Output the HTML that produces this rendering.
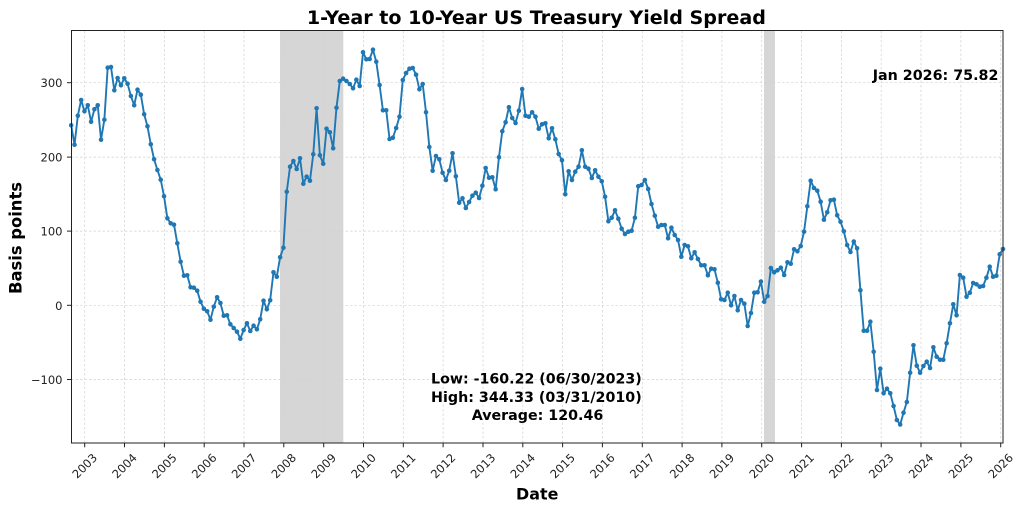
<!DOCTYPE html>
<html>
<head>
<meta charset="utf-8">
<style>
html,body{margin:0;padding:0;background:#fff;}
svg{display:block;}
text{font-family:"DejaVu Sans","Liberation Sans",sans-serif;}
</style>
</head>
<body>
<svg width="1024" height="512" viewBox="0 0 1024 512" xmlns="http://www.w3.org/2000/svg">
<defs>
<marker id="m" markerUnits="userSpaceOnUse" overflow="visible" style="overflow:visible" refX="0" refY="0" markerWidth="1" markerHeight="1">
<ellipse cx="0" cy="0" rx="0.69" ry="2.3" fill="#1f77b4"/>
</marker>
</defs>
<rect x="0" y="0" width="1024" height="512" fill="#fff"/>
<!-- recession shading -->
<rect x="280" y="31" width="63.3" height="412" fill="#d6d6d6"/>
<rect x="764" y="31" width="11" height="412" fill="#d6d6d6"/>
<!-- grid -->
<g stroke="#d2d2d2" stroke-width="0.7" stroke-dasharray="2.5,2" fill="none">
<line x1="71" y1="82.7" x2="1003" y2="82.7"/>
<line x1="71" y1="157.1" x2="1003" y2="157.1"/>
<line x1="71" y1="231.1" x2="1003" y2="231.1"/>
<line x1="71" y1="305.3" x2="1003" y2="305.3"/>
<line x1="71" y1="379.5" x2="1003" y2="379.5"/>
<line x1="84.7" y1="31" x2="84.7" y2="443"/>
<line x1="124.5" y1="31" x2="124.5" y2="443"/>
<line x1="164.4" y1="31" x2="164.4" y2="443"/>
<line x1="204.2" y1="31" x2="204.2" y2="443"/>
<line x1="244.0" y1="31" x2="244.0" y2="443"/>
<line x1="283.8" y1="31" x2="283.8" y2="443"/>
<line x1="323.7" y1="31" x2="323.7" y2="443"/>
<line x1="363.5" y1="31" x2="363.5" y2="443"/>
<line x1="403.3" y1="31" x2="403.3" y2="443"/>
<line x1="443.1" y1="31" x2="443.1" y2="443"/>
<line x1="483.0" y1="31" x2="483.0" y2="443"/>
<line x1="522.8" y1="31" x2="522.8" y2="443"/>
<line x1="562.6" y1="31" x2="562.6" y2="443"/>
<line x1="602.4" y1="31" x2="602.4" y2="443"/>
<line x1="642.3" y1="31" x2="642.3" y2="443"/>
<line x1="682.1" y1="31" x2="682.1" y2="443"/>
<line x1="721.9" y1="31" x2="721.9" y2="443"/>
<line x1="761.7" y1="31" x2="761.7" y2="443"/>
<line x1="801.6" y1="31" x2="801.6" y2="443"/>
<line x1="841.4" y1="31" x2="841.4" y2="443"/>
<line x1="881.2" y1="31" x2="881.2" y2="443"/>
<line x1="921.0" y1="31" x2="921.0" y2="443"/>
<line x1="960.9" y1="31" x2="960.9" y2="443"/>
<line x1="1000.7" y1="31" x2="1000.7" y2="443"/>
</g>
<!-- data series -->
<g transform="translate(71.2,0) scale(3.316,1)">
<polyline fill="none" stroke="#1f77b4" stroke-width="1.9" stroke-linejoin="round" vector-effect="non-scaling-stroke" marker-start="url(#m)" marker-mid="url(#m)" marker-end="url(#m)" points="0,125.3 1,144.7 2,115.7 3,100 4,111.3 5,105.3 6,121.7 7,109.3 8,105.3 9,139.7 10,119.7 11,67.7 12,67 13,90.3 14,78 15,85.3 16,78.3 17,83.7 18,96 19,105.3 20,89.7 21,94.7 22,114.3 23,126.3 24,144.3 25,159.3 26,170 27,179.7 28,196.3 29,218.3 30,223.3 31,224.7 32,243.3 33,261.7 34,275.7 35,275.3 36,287.3 37,287.7 38,290.7 39,301.7 40,308.7 41,311.3 42,319.7 43,306.7 44,297.3 45,303 46,315.7 47,315.3 48,324.3 49,328 50,331.7 51,338.7 52,330 53,323.3 54,331 55,325.7 56,329.3 57,319.3 58,300.7 59,309.3 60,300.3 61,272.3 62,276.7 63,257.3 64,247.7 65,191.7 66,166.7 67,161 68,169 69,158.3 70,183.7 71,176.7 72,180.7 73,154.3 74,108.3 75,155.3 76,163.7 77,128.7 78,132.3 79,148.3 80,107.7 81,81 82,78.7 83,81 84,84 85,88.3 86,79.7 87,86 88,52.3 89,59.3 90,59 91,49.7 92,61.7 93,85 94,110.3 95,110.3 96,139 97,137.7 98,128 99,116.7 100,80 101,73 102,68.7 103,68 104,74.7 105,89.3 106,84 107,112.3 108,147 109,170.7 110,156 111,159.3 112,172.7 113,180 114,170.7 115,153.3 116,176.3 117,202.7 118,198.3 119,208 120,202 121,195.7 122,192.7 123,198 124,185.7 125,168 126,177.7 127,177.3 128,189.3 129,157.2 130,131.2 131,122.3 132,107.2 133,118 134,123 135,110.7 136,89 137,115.7 138,116.7 139,112.3 140,116.7 141,128.7 142,124.3 143,123.3 144,138.3 145,128.3 146,139.3 147,154 148,160.3 149,194.3 150,171.3 151,180 152,171.7 153,166.7 154,150.3 155,166.7 156,168.7 157,178 158,170.3 159,176.7 160,181.3 161,196.7 162,221.3 163,217.7 164,210.3 165,218.7 166,228.7 167,234 168,231.7 169,230.7 170,217.7 171,186.3 172,185 173,180 174,189 175,204 176,215.7 177,226.7 178,225 179,225 180,238.3 181,227.7 182,235 183,240 184,256.7 185,245 186,246.3 187,258.3 188,252.3 189,259 190,265.3 191,265.3 192,275.3 193,268.7 194,269.3 195,282.7 196,299.3 197,300 198,292.7 199,305.3 200,296 201,310.3 202,300 203,303.7 204,326 205,313 206,292.7 207,292.3 208,281.5 209,301.7 210,296 211,268 212,272.3 213,270.3 214,267.7 215,275 216,262.3 217,263.7 218,249.3 219,251.3 220,246 221,231.7 222,206.3 223,180.7 224,188 225,190.7 226,201.7 227,219.7 228,212.3 229,200.3 230,199.7 231,215.3 232,221.7 233,231.3 234,245 235,252 236,241.5 237,248.3 238,290.3 239,330.7 240,330.7 241,321.7 242,351.7 243,390 244,368.7 245,393.3 246,388.7 247,393.3 248,406 249,420 250,424.5 251,412.7 252,402 253,372.7 254,345.3 255,365.7 256,372.7 257,366 258,361.7 259,368 260,347.3 261,356.7 262,359.7 263,359.7 264,343.3 265,323.3 266,304.3 267,315.3 268,275 269,277.7 270,296.7 271,292.7 272,283 273,284.3 274,286.7 275,286 276,277.7 277,266.7 278,276.7 279,275.7 280,254.3 281,249"/>
</g>
<!-- spines -->
<rect x="71.5" y="30.5" width="931.5" height="412.5" fill="none" stroke="#222" stroke-width="1"/>
<!-- y ticks -->
<g stroke="#222" stroke-width="1">
<line x1="67" y1="82.7" x2="71" y2="82.7"/>
<line x1="67" y1="157.1" x2="71" y2="157.1"/>
<line x1="67" y1="231.1" x2="71" y2="231.1"/>
<line x1="67" y1="305.3" x2="71" y2="305.3"/>
<line x1="67" y1="379.5" x2="71" y2="379.5"/>
</g>
<g font-size="11.5" fill="#222" text-anchor="end" dominant-baseline="central">
<text x="62.5" y="83.2">300</text>
<text x="62.5" y="157.6">200</text>
<text x="62.5" y="231.6">100</text>
<text x="62.5" y="305.8">0</text>
<text x="62.5" y="380">−100</text>
</g>
<!-- x ticks -->
<g stroke="#222" stroke-width="1">
<line x1="84.7" y1="443" x2="84.7" y2="447.3"/>
<line x1="124.5" y1="443" x2="124.5" y2="447.3"/>
<line x1="164.4" y1="443" x2="164.4" y2="447.3"/>
<line x1="204.2" y1="443" x2="204.2" y2="447.3"/>
<line x1="244.0" y1="443" x2="244.0" y2="447.3"/>
<line x1="283.8" y1="443" x2="283.8" y2="447.3"/>
<line x1="323.7" y1="443" x2="323.7" y2="447.3"/>
<line x1="363.5" y1="443" x2="363.5" y2="447.3"/>
<line x1="403.3" y1="443" x2="403.3" y2="447.3"/>
<line x1="443.1" y1="443" x2="443.1" y2="447.3"/>
<line x1="483.0" y1="443" x2="483.0" y2="447.3"/>
<line x1="522.8" y1="443" x2="522.8" y2="447.3"/>
<line x1="562.6" y1="443" x2="562.6" y2="447.3"/>
<line x1="602.4" y1="443" x2="602.4" y2="447.3"/>
<line x1="642.3" y1="443" x2="642.3" y2="447.3"/>
<line x1="682.1" y1="443" x2="682.1" y2="447.3"/>
<line x1="721.9" y1="443" x2="721.9" y2="447.3"/>
<line x1="761.7" y1="443" x2="761.7" y2="447.3"/>
<line x1="801.6" y1="443" x2="801.6" y2="447.3"/>
<line x1="841.4" y1="443" x2="841.4" y2="447.3"/>
<line x1="881.2" y1="443" x2="881.2" y2="447.3"/>
<line x1="921.0" y1="443" x2="921.0" y2="447.3"/>
<line x1="960.9" y1="443" x2="960.9" y2="447.3"/>
<line x1="1000.7" y1="443" x2="1000.7" y2="447.3"/>
</g>
<g font-size="11.5" fill="#222" text-anchor="middle" dominant-baseline="central">
<text transform="translate(84.7,466) rotate(-45)">2003</text>
<text transform="translate(124.5,466) rotate(-45)">2004</text>
<text transform="translate(164.4,466) rotate(-45)">2005</text>
<text transform="translate(204.2,466) rotate(-45)">2006</text>
<text transform="translate(244.0,466) rotate(-45)">2007</text>
<text transform="translate(283.8,466) rotate(-45)">2008</text>
<text transform="translate(323.7,466) rotate(-45)">2009</text>
<text transform="translate(363.5,466) rotate(-45)">2010</text>
<text transform="translate(403.3,466) rotate(-45)">2011</text>
<text transform="translate(443.1,466) rotate(-45)">2012</text>
<text transform="translate(483.0,466) rotate(-45)">2013</text>
<text transform="translate(522.8,466) rotate(-45)">2014</text>
<text transform="translate(562.6,466) rotate(-45)">2015</text>
<text transform="translate(602.4,466) rotate(-45)">2016</text>
<text transform="translate(642.3,466) rotate(-45)">2017</text>
<text transform="translate(682.1,466) rotate(-45)">2018</text>
<text transform="translate(721.9,466) rotate(-45)">2019</text>
<text transform="translate(761.7,466) rotate(-45)">2020</text>
<text transform="translate(801.6,466) rotate(-45)">2021</text>
<text transform="translate(841.4,466) rotate(-45)">2022</text>
<text transform="translate(881.2,466) rotate(-45)">2023</text>
<text transform="translate(921.0,466) rotate(-45)">2024</text>
<text transform="translate(960.9,466) rotate(-45)">2025</text>
<text transform="translate(1000.7,466) rotate(-45)">2026</text>
</g>
<!-- title and axis labels -->
<text x="536.4" y="24" font-size="18.5" font-weight="bold" fill="#000" text-anchor="middle" textLength="459" lengthAdjust="spacingAndGlyphs">1-Year to 10-Year US Treasury Yield Spread</text>
<text x="537.2" y="499.5" font-size="16" font-weight="bold" fill="#000" text-anchor="middle" textLength="42.3" lengthAdjust="spacingAndGlyphs">Date</text>
<text transform="translate(21.5,238) rotate(-90)" font-size="16.5" font-weight="bold" fill="#000" text-anchor="middle" textLength="112" lengthAdjust="spacingAndGlyphs">Basis points</text>
<!-- annotations -->
<text x="998.4" y="80" font-size="14.3" font-weight="bold" fill="#000" text-anchor="end" textLength="125.7" lengthAdjust="spacingAndGlyphs">Jan 2026: 75.82</text>
<g font-size="14.6" font-weight="bold" fill="#000" text-anchor="middle">
<text x="536.4" y="383.5" textLength="210.7" lengthAdjust="spacingAndGlyphs">Low: -160.22 (06/30/2023)</text>
<text x="536.4" y="401.8" textLength="210.7" lengthAdjust="spacingAndGlyphs">High: 344.33 (03/31/2010)</text>
<text x="537.5" y="420.1" textLength="131.6" lengthAdjust="spacingAndGlyphs">Average: 120.46</text>
</g>
</svg>
</body>
</html>
